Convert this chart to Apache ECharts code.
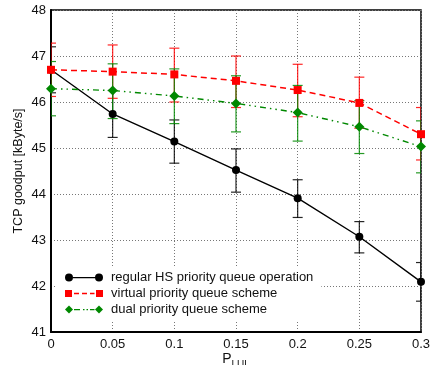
<!DOCTYPE html>
<html>
<head>
<meta charset="utf-8">
<script src="https://cdn.jsdelivr.net/npm/echarts@6/dist/echarts.min.js"></script>
<style>
  html, body {margin: 0; padding: 0; background: #fff;}
  #chart {width: 435px; height: 365px;}
</style>
</head>
<body>
<div id="chart"></div>
<script>
const pValues = [0, 0.05, 0.1, 0.15, 0.2, 0.25, 0.3];

const regularMean = [46.70, 45.74, 45.14, 44.52, 43.91, 43.07, 42.09];
const regularLow = [46.20, 45.23, 44.67, 44.04, 43.49, 42.72, 41.67];
const regularHigh = [47.20, 46.25, 45.61, 44.98, 44.31, 43.40, 42.51];

const virtualMean = [46.70, 46.66, 46.60, 46.46, 46.26, 45.98, 45.30];
const virtualLow = [46.12, 46.08, 46.00, 45.88, 45.68, 45.43, 44.74];
const virtualHigh = [47.28, 47.24, 47.17, 47.00, 46.82, 46.54, 45.88];

const dualMean = [46.29, 46.25, 46.13, 45.97, 45.77, 45.46, 45.03];
const dualLow = [45.70, 45.64, 45.53, 45.35, 45.15, 44.88, 44.46];
const dualHigh = [46.88, 46.83, 46.72, 46.57, 46.36, 46.03, 45.59];

const names = [
  'regular HS priority queue operation',
  'virtual priority queue scheme',
  'dual priority queue scheme'
];

const pairs = (ys) => pValues.map((x, i) => [x, ys[i]]);
const bars = (lo, hi) => pValues.map((x, i) => [x, lo[i], hi[i]]);

const errorBar = (color) => (params, api) => {
  const x = api.value(0);
  const lo = api.coord([x, api.value(1)]);
  const hi = api.coord([x, api.value(2)]);
  const w = 5;
  const style = {stroke: color, lineWidth: 1.2, opacity: 0.85};
  return {
    type: 'group',
    children: [
      {type: 'line', shape: {x1: lo[0], y1: lo[1], x2: hi[0], y2: hi[1]}, style},
      {type: 'line', shape: {x1: lo[0] - w, y1: lo[1], x2: lo[0] + w, y2: lo[1]}, style},
      {type: 'line', shape: {x1: hi[0] - w, y1: hi[1], x2: hi[0] + w, y2: hi[1]}, style}
    ]
  };
};

// legend icons: marker - line - marker, 38 x 8
const iconRegular = 'path://M0,4a4,4 0 1,0 8,0a4,4 0 1,0 -8,0z M8,3.4h22v1.3h-22z M30,4a4,4 0 1,0 8,0a4,4 0 1,0 -8,0z';
const iconVirtual = 'path://M0,0.5h7v7h-7z M9,3.3h5v1.4h-5z M17,3.3h5v1.4h-5z M25,3.3h4.5v1.4h-4.5z M31,0.5h7v7h-7z';
const iconDual = 'path://M4,0L8,4L4,8L0,4z M9,3.4h6v1.3h-6z M18,3.4h1.5v1.3h-1.5z M21.5,3.4h1.5v1.3h-1.5z M25,3.4h4.5v1.3h-4.5z M34,0L38,4L34,8L30,4z';

const font = 'Liberation Sans, Arial, sans-serif';

const chart = echarts.init(document.getElementById('chart'));
chart.setOption({
  animation: false,
  backgroundColor: '#fff',
  grid: {
    left: 51, right: 14, top: 10, bottom: 33,
    outerBoundsMode: 'none',
    show: true, borderColor: '#000', borderWidth: 1.5
  },
  legend: {
    orient: 'vertical',
    left: 56, top: 267,
    padding: [4, 8, 4, 9],
    itemWidth: 38, itemHeight: 8, itemGap: 3,
    backgroundColor: '#fff',
    selectedMode: false,
    itemStyle: {borderWidth: 0},
    textStyle: {fontFamily: font, fontSize: 13, color: '#111', padding: [0, 0, 0, 3]},
    data: [
      {name: names[0], icon: iconRegular, itemStyle: {color: '#000'}},
      {name: names[1], icon: iconVirtual, itemStyle: {color: '#f00'}},
      {name: names[2], icon: iconDual, itemStyle: {color: '#080'}}
    ]
  },
  xAxis: {
    type: 'value', min: 0, max: 0.3, interval: 0.05,
    name: '{p|P}{s|LUL}',
    nameLocation: 'middle', nameGap: 16,
    nameMoveOverlap: false,
    nameTextStyle: {
      rich: {
        p: {fontFamily: font, fontSize: 14, color: '#111'},
        s: {fontFamily: font, fontSize: 10, color: '#111', padding: [12, 0, 0, 0]}
      }
    },
    axisLine: {lineStyle: {color: '#000', width: 2}},
    axisTick: {show: false},
    axisLabel: {fontFamily: font, fontSize: 13, color: '#111', margin: 6},
    splitLine: {lineStyle: {color: '#777', type: [1, 2], width: 1}}
  },
  yAxis: {
    type: 'value', min: 41, max: 48, interval: 1,
    name: 'TCP goodput [kByte/s]',
    nameLocation: 'middle', nameGap: 26,
    nameMoveOverlap: false,
    nameTextStyle: {fontFamily: font, fontSize: 12.5, color: '#111'},
    axisLine: {lineStyle: {color: '#000', width: 2}},
    axisTick: {show: false},
    axisLabel: {fontFamily: font, fontSize: 13, color: '#111', margin: 5},
    splitLine: {lineStyle: {color: '#777', type: [1, 2], width: 1}}
  },
  series: [
    {
      type: 'custom', name: 'errRegular', clip: true, z: 2,
      renderItem: errorBar('#000'), data: bars(regularLow, regularHigh)
    },
    {
      type: 'custom', name: 'errVirtual', clip: true, z: 2,
      renderItem: errorBar('#f00'), data: bars(virtualLow, virtualHigh)
    },
    {
      type: 'custom', name: 'errDual', clip: true, z: 2,
      renderItem: errorBar('#080'), data: bars(dualLow, dualHigh)
    },
    {
      type: 'line', name: names[0], data: pairs(regularMean), z: 3,
      symbol: 'circle', symbolSize: 8, color: '#000',
      lineStyle: {color: '#000', width: 1.4},
      itemStyle: {color: '#000', borderWidth: 0}
    },
    {
      type: 'line', name: names[1], data: pairs(virtualMean), z: 4,
      symbol: 'rect', symbolSize: 8, color: '#f00',
      lineStyle: {color: '#f00', width: 1.5, type: [6, 4]},
      itemStyle: {color: '#f00', borderWidth: 0}
    },
    {
      type: 'line', name: names[2], data: pairs(dualMean), z: 5,
      symbol: 'diamond', symbolSize: 10, color: '#080',
      lineStyle: {color: '#080', width: 1.4, type: [6, 4, 1.5, 4, 1.5, 4]},
      itemStyle: {color: '#080', borderWidth: 0}
    }
  ]
});
</script>
</body>
</html>
